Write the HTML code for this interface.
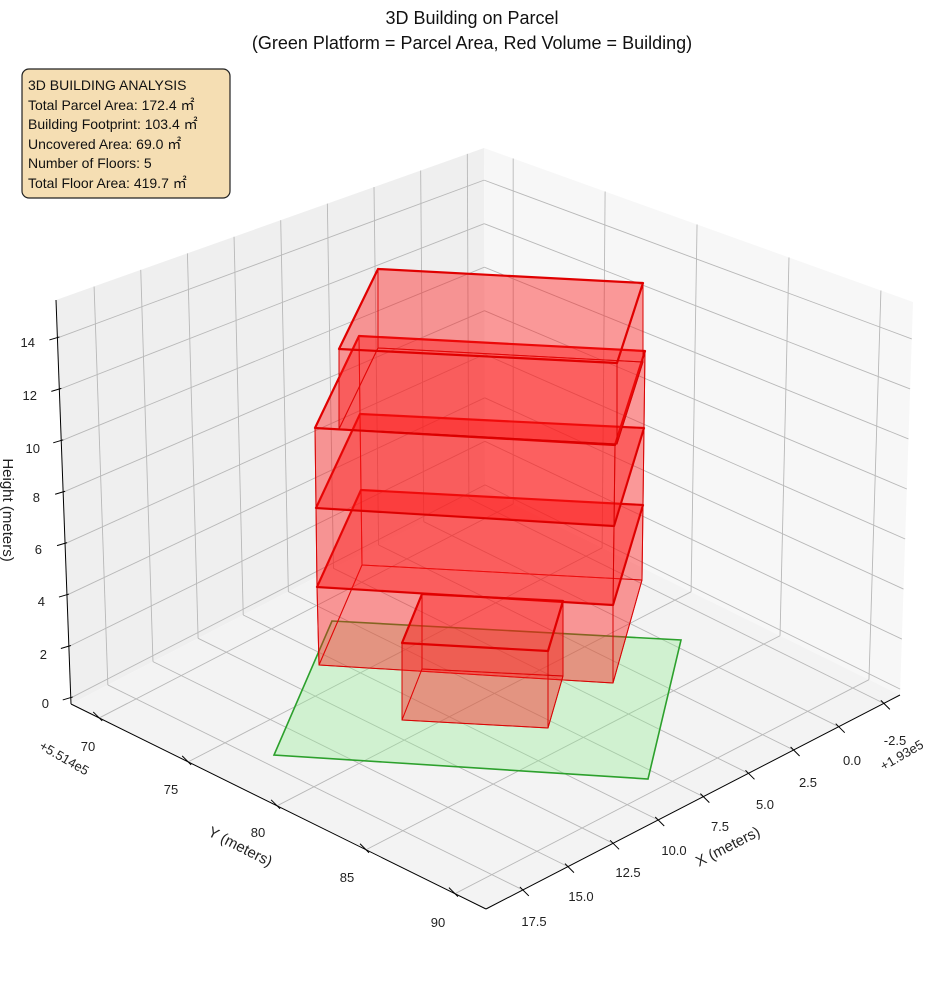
<!DOCTYPE html>
<html><head><meta charset="utf-8"><style>
html,body{margin:0;padding:0;background:#fff;}
svg{display:block;font-family:"Liberation Sans","Noto Sans CJK JP",sans-serif;}
</style></head><body>
<svg id="s" width="944" height="992" viewBox="0 0 944 992" xmlns="http://www.w3.org/2000/svg">
<g id="panes"></g>
<g id="grid" stroke="#b8b8b8" stroke-width="0.9" fill="none"></g>
<g id="axes" stroke="#000" stroke-width="1" fill="none"></g>
<polygon points="332,621 681,640 648,779 274,755" fill="rgba(144,238,144,0.35)" stroke="#2ca02c" stroke-width="1.6"/>
<g id="bld"></g>
<g font-size="13" fill="#222">
<text x="49" y="708" text-anchor="end">0</text>
<text x="47" y="659" text-anchor="end">2</text>
<text x="45" y="606" text-anchor="end">4</text>
<text x="42" y="554" text-anchor="end">6</text>
<text x="40" y="502" text-anchor="end">8</text>
<text x="40" y="453" text-anchor="end">10</text>
<text x="37" y="400" text-anchor="end">12</text>
<text x="35" y="347" text-anchor="end">14</text>
<text x="88" y="751" text-anchor="middle">70</text>
<text x="171" y="794" text-anchor="middle">75</text>
<text x="258" y="837" text-anchor="middle">80</text>
<text x="347" y="882" text-anchor="middle">85</text>
<text x="438" y="927" text-anchor="middle">90</text>
<text x="895" y="745" text-anchor="middle">-2.5</text>
<text x="852" y="765" text-anchor="middle">0.0</text>
<text x="808" y="787" text-anchor="middle">2.5</text>
<text x="765" y="809" text-anchor="middle">5.0</text>
<text x="720" y="831" text-anchor="middle">7.5</text>
<text x="674" y="855" text-anchor="middle">10.0</text>
<text x="628" y="877" text-anchor="middle">12.5</text>
<text x="581" y="901" text-anchor="middle">15.0</text>
<text x="534" y="926" text-anchor="middle">17.5</text>
<text transform="translate(62,762) rotate(30)" text-anchor="middle">+5.514e5</text>
<text transform="translate(904,759) rotate(-30)" text-anchor="middle">+1.93e5</text>
</g>
<g font-size="15" fill="#222">
<text transform="translate(238,851) rotate(27)" text-anchor="middle">Y (meters)</text>
<text transform="translate(730,851) rotate(-27)" text-anchor="middle">X (meters)</text>
<text transform="translate(3,510) rotate(90)" text-anchor="middle">Height (meters)</text>
</g>
<g font-size="18" fill="#111" text-anchor="middle">
<text x="472" y="24">3D Building on Parcel</text>
<text x="472" y="49">(Green Platform = Parcel Area, Red Volume = Building)</text>
</g>
<rect x="22" y="69" width="208" height="129" rx="7" fill="#f5deb3" stroke="#222" stroke-width="1.2"/>
<g font-size="14" fill="#111">
<text x="28" y="90">3D BUILDING ANALYSIS</text>
<text x="28" y="110">Total Parcel Area: 172.4 ㎡</text>
<text x="28" y="129">Building Footprint: 103.4 ㎡</text>
<text x="28" y="149">Uncovered Area: 69.0 ㎡</text>
<text x="28" y="168">Number of Floors: 5</text>
<text x="28" y="188">Total Floor Area: 419.7 ㎡</text>
</g>
</svg>
<script>
(function(){
var NS="http://www.w3.org/2000/svg";
var B=[485,490],L=[71,704],R=[900,695];
var Hb=[-1,-342],Hl=[-15,-404],Hr=[13,-393];
function P(u,v,w){
 var hx=Hb[0]+u*(Hl[0]-Hb[0])+v*(Hr[0]-Hb[0]);
 var hy=Hb[1]+u*(Hl[1]-Hb[1])+v*(Hr[1]-Hb[1]);
 return [B[0]+u*(L[0]-B[0])+v*(R[0]-B[0])+w*hx, B[1]+u*(L[1]-B[1])+v*(R[1]-B[1])+w*hy];
}
function el(g,tag,attrs){var e=document.createElementNS(NS,tag);for(var k in attrs)e.setAttribute(k,attrs[k]);document.getElementById(g).appendChild(e);return e;}
function poly(g,pts,attrs){attrs.points=pts.map(function(p){return p[0].toFixed(1)+","+p[1].toFixed(1)}).join(" ");return el(g,"polygon",attrs);}
function line(g,a,b,attrs){attrs=attrs||{};attrs.x1=a[0];attrs.y1=a[1];attrs.x2=b[0];attrs.y2=b[1];return el(g,"line",attrs);}
poly("panes",[P(1,0,0),P(1,0,1),P(0,0,1),P(0,0,0)],{fill:"#efefef"});
poly("panes",[P(0,0,0),P(0,0,1),P(0,1,1),P(0,1,0)],{fill:"#f7f7f7"});
poly("panes",[P(1,0,0),P(0,0,0),P(0,1,0),P(1,1,0)],{fill:"#f3f3f3"});
var us=[],vs=[],ws=[],i;
for(i=0;i<9;i++)us.push(0.039+0.109*i);
for(i=0;i<5;i++)vs.push(0.068+0.2143*i);
for(i=0;i<8;i++)ws.push(0.015+0.1273*i);
us.forEach(function(u){line("grid",P(u,0,0),P(u,0,1));line("grid",P(u,0,0),P(u,1,0));});
vs.forEach(function(v){line("grid",P(0,v,0),P(0,v,1));line("grid",P(0,v,0),P(1,v,0));});
ws.forEach(function(w){line("grid",P(1,0,w),P(0,0,w));line("grid",P(0,0,w),P(0,1,w));});
line("axes",P(1,0,0),P(1,0,1));
line("axes",P(1,0,0),P(1,1,0));
line("axes",P(1,1,0),P(0,1,0));
ws.forEach(function(w){var p=P(1,0,w);line("axes",[p[0]-8,p[1]+2],[p[0]+2,p[1]-1]);});
vs.forEach(function(v){var p=P(1,v,0);line("axes",[p[0]-6,p[1]-6],[p[0]+3,p[1]+3]);});
us.forEach(function(u){var p=P(u,1,0);line("axes",[p[0]+6,p[1]+6],[p[0]-3,p[1]-3]);});
// building boxes: bottom FL,FR,BR,BL ; top FL,FR,BR,BL
function box(b,t,thick){
 var faceA={fill:"rgba(255,20,20,0.24)",stroke:"rgba(215,0,0,0.85)","stroke-width":1,"stroke-linejoin":"round"};
 poly("bld",[b[3],b[2],t[2],t[3]],faceA);
 poly("bld",[b[0],b[3],t[3],t[0]],faceA);
 poly("bld",[b[1],b[2],t[2],t[1]],faceA);
 poly("bld",b,faceA);
 poly("bld",[b[0],b[1],t[1],t[0]],faceA);
 poly("bld",t,{fill:"rgba(255,20,20,0.24)",stroke:"#e00000","stroke-width":thick,"stroke-linejoin":"round"});
}
var FL=[[319,665],[317,587],[316,508],[315,428]],
    FR=[[613,683],[613,605],[614,526],[615,445]],
    BR=[[642,580],[643,505],[644,428],[645,351]],
    BL=[[362,565],[361,490],[360,414],[359,336]];
for(i=0;i<3;i++){box([FL[i],FR[i],BR[i],BL[i]],[FL[i+1],FR[i+1],BR[i+1],BL[i+1]],2.2);}
box([[339,429],[617,444],[643,362],[378,348]],[[339,349],[617,363],[643,283],[378,269]],2.2);
box([[402,720],[548,728],[563,676],[422,669]],[[402,643],[548,651],[563,601],[422,594]],2.2);
})();
</script>
</body></html>
